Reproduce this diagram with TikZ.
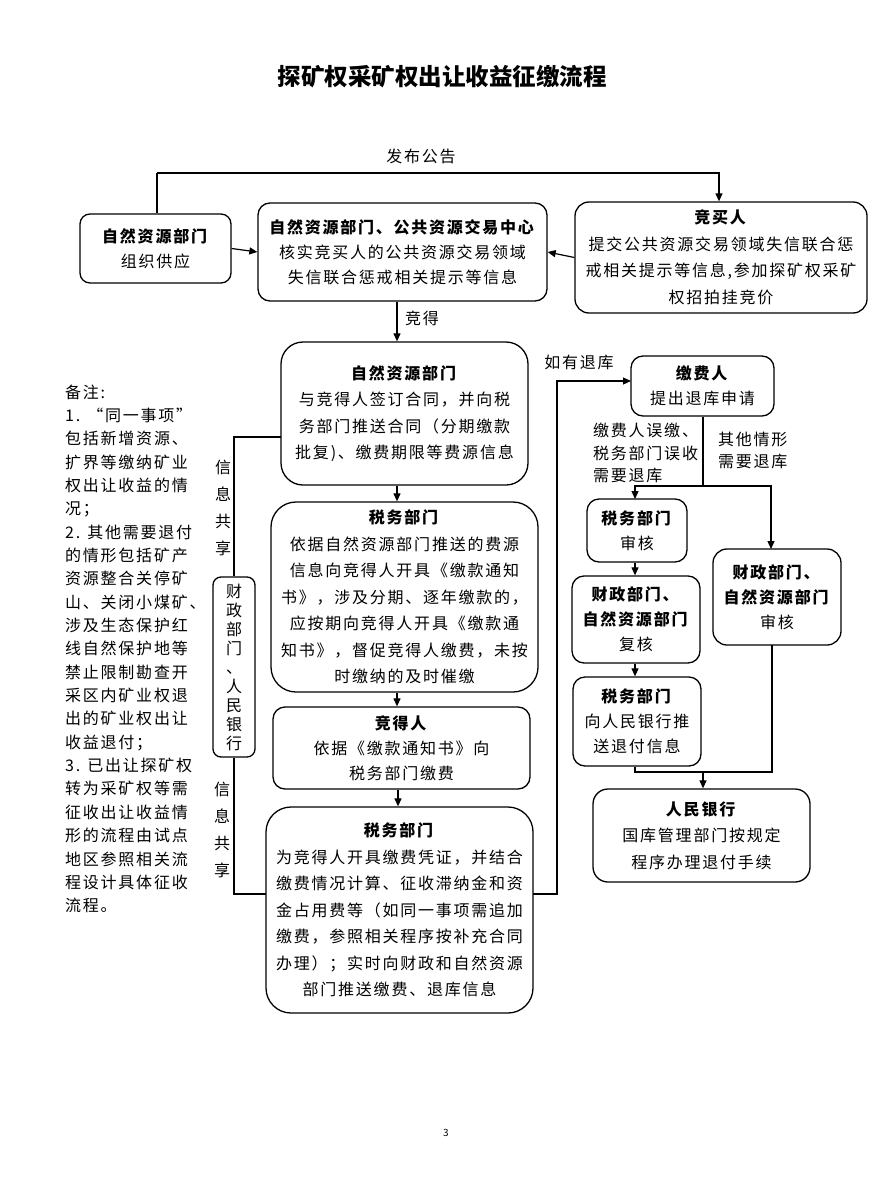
\documentclass[tikz,border=0pt]{standalone}
\usepackage{fontspec}
\setmainfont{Noto Sans CJK SC}[LetterSpace=11]
\newfontfamily\plainfnt{Noto Sans CJK SC}
\usetikzlibrary{arrows.meta}
\newcommand\bodyfnt{\fontsize{16}{26.5}\selectfont}
\newcommand\smallfnt{\fontsize{16}{25}\selectfont}
\begin{document}
\begin{tikzpicture}[x=1pt,y=-1pt,
  box/.style={draw,line width=1.3pt,rounded corners=#1,align=center,inner sep=0pt,font=\bodyfnt},
  box/.default=10pt,
  arr/.style={line width=1.2pt,-{Triangle[length=8pt,width=7pt]}},
  ln/.style={line width=1.2pt},
  thk/.style={line width=2.4pt},
  lab/.style={inner sep=0pt,font=\bodyfnt}]
\fill[white] (0,0) rectangle (891,1188);
\useasboundingbox (0,0) rectangle (891,1188);

% title
\node[inner sep=0pt,font=\plainfnt\fontsize{23.5}{24}\selectfont\bfseries] (title) at (442,77) {探矿权采矿权出让收益征缴流程};

% top row
\node[box=10pt,minimum width=151pt,minimum height=69pt,font=\smallfnt] (A) at (155.5,248.5) {\textbf{自然资源部门}\\组织供应};
\node[box=12pt,minimum width=289pt,minimum height=98pt,font=\smallfnt] (B) at (402.5,252) {\textbf{自然资源部门、公共资源交易中心}\\核实竞买人的公共资源交易领域\\失信联合惩戒相关提示等信息};
\node[box=14pt,minimum width=292pt,minimum height=111pt] (C) at (721,257.5) {\textbf{竞买人}\\提交公共资源交易领域失信联合惩\\戒相关提示等信息,参加探矿权采矿\\权招拍挂竞价};

% middle column
\node[box=22pt,minimum width=247pt,minimum height=143pt] (D) at (404.5,413.5) {\textbf{自然资源部门}\\与竞得人签订合同，并向税\\务部门推送合同（分期缴款\\批复)、缴费期限等费源信息};
\node[box=25pt,minimum width=267pt,minimum height=190pt] (E) at (404.5,597) {\textbf{税务部门}\\依据自然资源部门推送的费源\\信息向竞得人开具《缴款通知\\书》，涉及分期、逐年缴款的，\\应按期向竞得人开具《缴款通\\知书》，督促竞得人缴费，未按\\时缴纳的及时催缴};
\node[box=12pt,minimum width=257pt,minimum height=82pt,font=\smallfnt] (F) at (401.5,748) {\textbf{竞得人}\\依据《缴款通知书》向\\税务部门缴费};
\node[box=25pt,minimum width=267pt,minimum height=206pt] (G) at (399.5,910) {\textbf{税务部门}\\为竞得人开具缴费凭证，并结合\\缴费情况计算、征收滞纳金和资\\金占用费等（如同一事项需追加\\缴费，参照相关程序按补充合同\\办理）；实时向财政和自然资源\\部门推送缴费、退库信息};

% right column
\node[box=12pt,minimum width=143pt,minimum height=60pt,font=\smallfnt] (H) at (702.5,386) {\textbf{缴费人}\\提出退库申请};
\node[box=12pt,minimum width=100pt,minimum height=63pt,font=\smallfnt] (I) at (637,530.5) {\textbf{税务部门}\\审核};
\node[box=12pt,minimum width=128pt,minimum height=87pt,font=\smallfnt] (J) at (636,619.5) {\textbf{财政部门、}\\\textbf{自然资源部门}\\复核};
\node[box=14pt,minimum width=128pt,minimum height=96pt,font=\smallfnt] (K) at (777,597) {\textbf{财政部门、}\\\textbf{自然资源部门}\\审核};
\node[box=12pt,minimum width=128pt,minimum height=89pt,font=\smallfnt] (L) at (637,721.5) {\textbf{税务部门}\\向人民银行推\\送退付信息};
\node[box=15pt,minimum width=217pt,minimum height=93pt] (M) at (701.5,835.5) {\textbf{人民银行}\\国库管理部门按规定\\程序办理退付手续};

% left vertical box
\node[box=8pt,minimum width=42pt,minimum height=180pt,font=\plainfnt\fontsize{16}{19}\selectfont] (N) at (234,667) {财\\政\\部\\门\\、\\人\\民\\银\\行};

% labels
\node[lab] (lpub) at (421,156) {发布公告};
\node[lab] (lwin) at (422,318) {竞得};
\node[lab] (lret) at (579,362) {如有退库};
\node[lab,align=center,font=\plainfnt\fontsize{16}{27}\selectfont] (info1) at (223,507.5) {信\\息\\共\\享};
\node[lab,align=center,font=\plainfnt\fontsize{16}{27}\selectfont] (info2) at (222,830) {信\\息\\共\\享};
\node[lab,anchor=base west] (lmis1) at (593,436) {缴费人误缴、};
\node[lab,anchor=base west] (lmis2) at (593,459) {税务部门误收};
\node[lab,anchor=base west] (lmis3) at (593,481) {需要退库};
\node[lab,anchor=base west] (loth1) at (718,445) {其他情形};
\node[lab,anchor=base west] (loth2) at (718,467) {需要退库};

% notes
\foreach \t [count=\i] in {备注:,1. “同一事项”,包括新增资源、,扩界等缴纳矿业,权出让收益的情,况；,2. 其他需要退付,的情形包括矿产,资源整合关停矿,山、关闭小煤矿、,涉及生态保护红,线自然保护地等,禁止限制勘查开,采区内矿业权退,出的矿业权出让,收益退付；,3. 已出让探矿权,转为采矿权等需,征收出让收益情,形的流程由试点,地区参照相关流,程设计具体征收,流程。}
  \node[lab,anchor=base west] (note\i) at (65,{398+23.35*(\i-1)}) {\t};

% page number
\node[inner sep=0pt,font=\plainfnt\fontsize{10}{10}\selectfont] (pg) at (446,1133) {3};

% coordinates
\coordinate (dl) at (281,437);
\coordinate (gl) at (266,894);
\coordinate (gr) at (533,894);
\coordinate (retx) at (557,0);
\coordinate (hin) at (631,381);
\coordinate (split) at (703,486);
\coordinate (ki) at (771,549);
\coordinate (ii) at (635,499);
\coordinate (kb) at (772,645);
\coordinate (join) at (703,772);
\coordinate (pubL) at (157,173);

% connectors
\draw[thk] (A.north -| pubL) -- (pubL);
\draw[arr] (pubL) -| (C.north -| 719,0);
\draw[arr] (A.east) -- (B.west);
\draw[arr] (C.west) -- (B.east);
\draw[arr] (B.south -| 397,0) -- (D.north -| 397,0);
\draw[arr] (D.south -| 397,0) -- (E.north -| 397,0);
\draw[arr] (E.south -| 397,0) -- (F.north -| 397,0);
\draw[arr] (F.south -| 398,0) -- (G.north -| 398,0);
\draw[ln] (dl) -| (N.north);
\draw[ln] (N.south) |- (gl);
\draw[arr] (gr) -| (retx |- hin) -- (hin);
\draw[ln] (H.south -| split) -- (split);
\draw[arr] (split) -| (ii);
\draw[arr] (split) -| (ki);
\draw[arr] (I.south -| ii) -- (J.north -| ii);
\draw[arr] (J.south -| ii) -- (L.north -| ii);
\draw[thk] (kb) |- (join);
\draw[ln] (L.south -| ii) |- (join);
\draw[arr] (join) -- (M.north -| join);
\end{tikzpicture}
\end{document}
